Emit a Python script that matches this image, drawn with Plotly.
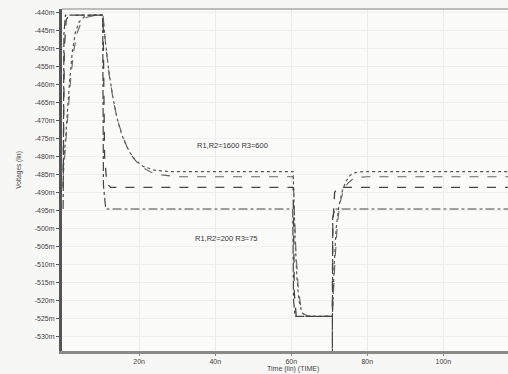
import plotly.graph_objects as go

# ---- data (time in ns, voltage in mV) ----
slow_a_t = [0, 0.6, 1.1, 1.7, 2.4, 3.2, 4.2, 5.5, 7, 10.5, 11, 12, 13, 14, 15, 16, 17.5, 19, 21, 24, 28,
            60.5, 61, 61.5, 62, 62.8, 64, 70.8, 71.3, 71.8, 72.5, 73.3, 74.3, 75.5, 77, 79, 117]
slow_a_v = [-484.2, -475, -467, -459, -451, -445.5, -442.5, -441.1, -440.6, -440.6, -447, -456, -463, -468.5,
            -472.5, -475.5, -478.8, -481, -482.7, -483.8, -484.2,
            -484.2, -503, -514, -520, -523.5, -524.5, -524.5, -510, -500, -494, -490, -487, -485.2, -484.4,
            -484.2, -484.2]

slow_b_t = [0, 0.7, 1.3, 2.0, 2.8, 3.7, 4.8, 6.2, 8, 10.5, 11.2, 12.2, 13.3, 14.5, 15.7, 17, 18.5, 20.5,
            23, 26, 30, 60.5, 61.2, 61.8, 62.4, 63.2, 64.5, 70.8, 71.5, 72.1, 72.8, 73.7, 74.8, 76, 77.6, 80, 117]
slow_b_v = [-485.6, -476, -467, -458, -450.5, -445.5, -442.5, -441.2, -440.8, -440.8, -449, -458, -465,
            -470.5, -474.5, -477.8, -480.5, -482.8, -484.3, -485.1, -485.6,
            -485.6, -506, -516, -521, -523.8, -524.5, -524.5, -509, -499, -493, -489.5, -487.5, -486.4, -485.8,
            -485.6, -485.6]

fast_a_t = [0, 0.3, 0.8, 1.5, 10.5, 10.9, 11.5, 12.5, 60.5, 60.8, 61.3, 70.8, 70.9, 71.4, 72.2, 117]
fast_a_v = [-488.6, -450, -442, -440.6, -440.6, -480, -487.5, -488.6, -488.6, -518, -524.5, -524.5, -500,
            -490, -488.6, -488.6]

fast_b_t = [0, 0.2, 0.6, 10.4, 10.6, 11.2, 60.4, 60.6, 61.0, 70.8, 70.8, 70.9, 71.4, 117]
fast_b_v = [-494.6, -446, -440.6, -440.6, -488, -494.6, -494.6, -520, -524.5, -524.5, -536, -497, -494.6,
            -494.6]

y_tick_vals = [-440, -445, -450, -455, -460, -465, -470, -475, -480, -485, -490, -495, -500, -505, -510,
               -515, -520, -525, -530]
y_tick_text = ["-440m", "-445m", "-450m", "-455m", "-460m", "-465m", "-470m", "-475m", "-480m", "-485m",
               "-490m", "-495m", "-500m", "-505m", "-510m", "-515m", "-520m", "-525m", "-530m"]
x_tick_vals = [20, 40, 60, 80, 100]
x_tick_text = ["20n", "40n", "60n", "80n", "100n"]

label_high = "R1,R2=1600 R3=600"
label_low = "R1,R2=200 R3=75"

fig = go.Figure()
fig.add_trace(go.Scatter(x=slow_a_t, y=slow_a_v, mode="lines",
                         line=dict(color="#555555", width=1.2, dash="dot")))
fig.add_trace(go.Scatter(x=slow_b_t, y=slow_b_v, mode="lines",
                         line=dict(color="#666666", width=1.1, dash="dash")))
fig.add_trace(go.Scatter(x=fast_a_t, y=fast_a_v, mode="lines",
                         line=dict(color="#444444", width=1.3, dash="dash")))
fig.add_trace(go.Scatter(x=fast_b_t, y=fast_b_v, mode="lines",
                         line=dict(color="#444444", width=1.2, dash="dashdot")))

font_family = "Liberation Sans, Arial, sans-serif"

fig.update_layout(
    width=508, height=374,
    margin=dict(l=62, r=0, t=9, b=23),
    paper_bgcolor="#f7f7f5", plot_bgcolor="#fbfbfa",
    showlegend=False,
    font=dict(family=font_family, size=7, color="#444444"),
    xaxis=dict(range=[-0.3, 117], tickvals=x_tick_vals, ticktext=x_tick_text,
               showgrid=True, gridcolor="#ececec", gridwidth=1, zeroline=False,
               showline=True, linecolor="#8a8a8a", linewidth=3, mirror=False,
               ticks="outside", ticklen=2, tickcolor="#888888",
               tickfont=dict(size=7, color="#444444")),
    yaxis=dict(range=[-534.15, -438.9], tickvals=y_tick_vals, ticktext=y_tick_text,
               showgrid=True, gridcolor="#efefef", gridwidth=1, zeroline=False,
               showline=True, linecolor="#555555", linewidth=3,
               ticks="outside", ticklen=3, tickcolor="#555555",
               tickfont=dict(size=7, color="#444444")),
    shapes=[dict(type="line", xref="paper", yref="paper", x0=0, x1=1, y0=1, y1=1,
                 line=dict(color="#aaaaaa", width=1.5))],
    annotations=[
        dict(text=label_high, x=44.5, y=-477, xref="x", yref="y", showarrow=False,
             font=dict(size=7.5, color="#333333")),
        dict(text=label_low, x=42.9, y=-502.7, xref="x", yref="y", showarrow=False,
             font=dict(size=7.5, color="#333333")),
        dict(text="Time (lin) (TIME)", x=0.518, y=-0.053, xref="paper", yref="paper",
             showarrow=False, yanchor="middle", font=dict(size=7, color="#444444")),
        dict(text="Voltages (lin)", x=-0.11, y=0.53, xref="paper", yref="paper",
             showarrow=False, textangle=-90, font=dict(size=6.5, color="#444444")),
    ],
)

fig.write_html("out.html")
